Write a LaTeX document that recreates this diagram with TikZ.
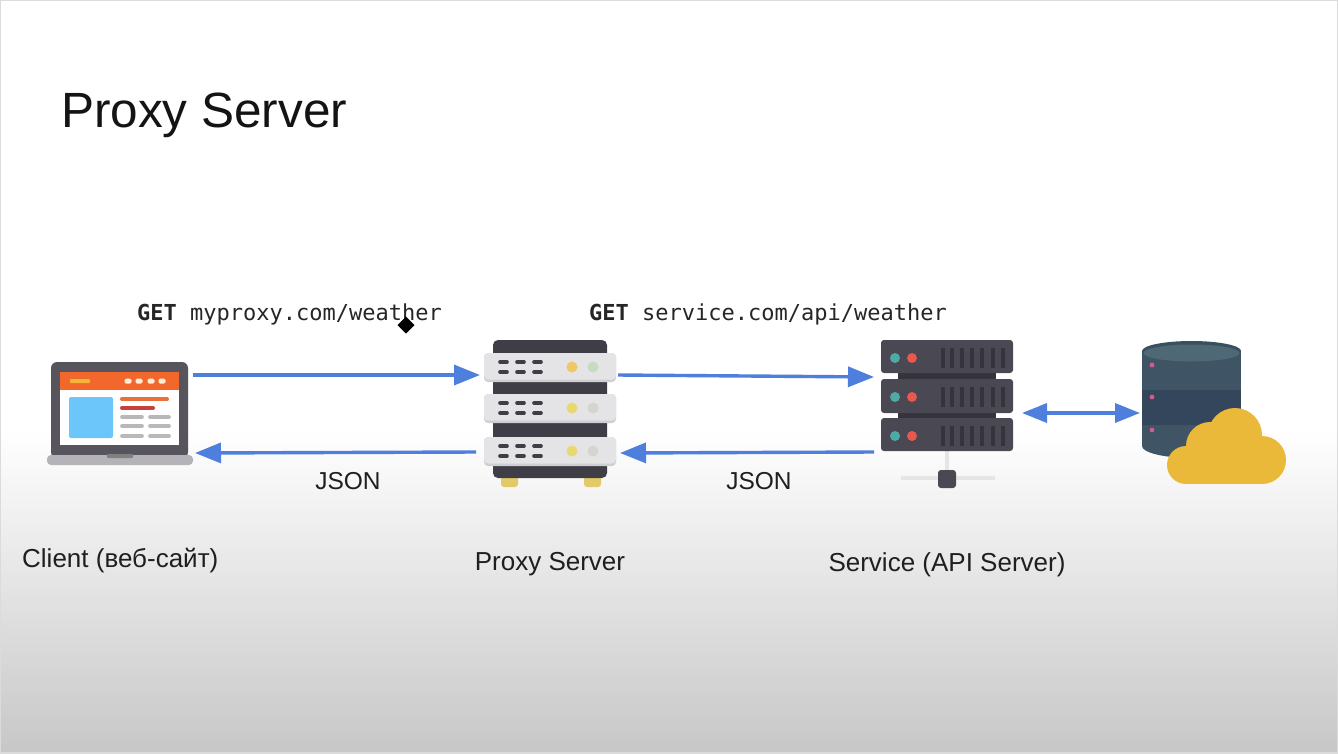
\documentclass[tikz,border=0pt]{standalone}
\usepackage{fontspec}
\setmainfont{Liberation Sans}
\setmonofont{DejaVu Sans Mono}
\usetikzlibrary{arrows.meta}
\definecolor{flowblue}{HTML}{4F7FDC}
\definecolor{lapdark}{HTML}{57545E}
\definecolor{lapbase}{HTML}{B4B4B8}
\definecolor{laporange}{HTML}{F2682C}
\definecolor{lapblue}{HTML}{6CC6FA}
\definecolor{lapline}{HTML}{E8703A}
\definecolor{lapred}{HTML}{C8403A}
\definecolor{lapyellow}{HTML}{F4B73C}
\definecolor{srvdark}{HTML}{3F3E46}
\definecolor{srvlight}{HTML}{E4E4E6}
\definecolor{srvedge}{HTML}{CFCFD3}
\definecolor{svc}{HTML}{4A4953}
\definecolor{svcdeep}{HTML}{35343C}
\definecolor{ledteal}{HTML}{4FAAA5}
\definecolor{ledred}{HTML}{E8584F}
\definecolor{ledyo}{HTML}{EEC766}
\definecolor{ledy}{HTML}{E8D870}
\definecolor{ledg}{HTML}{C5DCC0}
\definecolor{ledn}{HTML}{D4D4D0}
\definecolor{foot}{HTML}{E4C968}
\definecolor{dbtop}{HTML}{4F6875}
\definecolor{dbrim}{HTML}{39505F}
\definecolor{dbmid}{HTML}{3F5566}
\definecolor{dbdark}{HTML}{33465B}
\definecolor{dbpink}{HTML}{D85A8C}
\definecolor{cloudy}{HTML}{EBB93A}
\tikzset{
  x=1pt,y=-1pt,
  flow/.style={draw=flowblue,line width=3.4pt,-{Triangle[length=26pt,width=20pt]}},
  flowboth/.style={draw=flowblue,line width=3.4pt,{Triangle[length=25pt,width=19pt]}-{Triangle[length=25pt,width=19pt]}},
  lab/.style={inner sep=0pt,font=\fontsize{26}{26}\selectfont,text=black!88},
  jsonlab/.style={inner sep=0pt,font=\fontsize{24.5}{25}\selectfont,text=black!88},
  req/.style={inner sep=0pt,anchor=west,font=\fontsize{22}{22}\ttfamily,text=black!85},
  vent/.style={line width=3.6pt,draw=srvdark,line cap=round},
  svcvent/.style={line width=3.6pt,draw=svcdeep},
  grayline/.style={line width=3.6pt,draw=black!28,line cap=round},
}
\begin{document}
\begin{tikzpicture}
\useasboundingbox (0,0) rectangle (1338,753);
% background
\fill[white] (0,0) rectangle (1338,430);
\fill[top color=white,bottom color=black!22,shading angle=0] (0,430) rectangle (1338,753);
\draw[black!14,line width=1.5pt] (0,0) rectangle (1338,753);

\node[inner sep=0pt,anchor=west,font=\fontsize{49.5}{50}\selectfont,text=black!92] (title) at (61,115.5) {Proxy Server};

% laptop
\fill[lapdark,rounded corners=6pt] (51,362) rectangle (188,458);
\fill[lapbase,rounded corners=4pt] (47,455) rectangle (193,465);
\fill[black!50,rounded corners=1pt] (107,454) rectangle (133,458);
\fill[white] (60,372) rectangle (179,445);
\fill[laporange] (60,372) rectangle (179,390);
\fill[lapyellow,rounded corners=1pt] (70,379) rectangle (90,383);
\foreach \px in {128,139,151,162}{\fill[white!85!orange,rounded corners=1.5pt] (\px-3.5,378.5) rectangle (\px+3.5,383.5);}
\fill[lapblue,rounded corners=2pt] (69,397) rectangle (113,438);
\draw[line width=4pt,draw=lapline,line cap=round] (122,399) -- (167,399);
\draw[line width=4pt,draw=lapred,line cap=round] (122,408) -- (153,408);
\foreach \py in {417,426,436}{
  \draw[grayline] (122,\py) -- (142,\py);
  \draw[grayline] (150,\py) -- (169,\py);
}

% proxy server
\fill[foot,rounded corners=3pt] (501,472) rectangle (518,487);
\fill[foot,rounded corners=3pt] (584,472) rectangle (601,487);
\fill[srvdark,rounded corners=5pt] (493,340) rectangle (607,478);
\foreach \uy/\lc/\rc in {353/ledyo/ledg,394/ledy/ledn,437/ledy/ledn}{
  \fill[srvedge,rounded corners=4pt] (484,\uy) rectangle (616,\uy+29);
  \fill[srvlight,rounded corners=4pt] (484,\uy) rectangle (616,\uy+26.5);
  \foreach \vx in {500,517,534}{
    \draw[vent] (\vx,\uy+9) -- (\vx+7,\uy+9);
    \draw[vent] (\vx,\uy+19) -- (\vx+7,\uy+19);
  }
  \fill[\lc] (572,\uy+14) circle (5.5pt);
  \fill[\rc] (593,\uy+14) circle (5.5pt);
}

% service
\fill[black!10] (945,451) rectangle (949,472);
\draw[black!10,line width=4pt] (901,478) -- (995,478);
\fill[svc,rounded corners=3pt] (938,470) rectangle (956,488);
\fill[svcdeep] (898,370) rectangle (996,382);
\fill[svcdeep] (898,410) rectangle (996,421);
\foreach \uy/\uh in {340/33,379/34,418/33}{
  \fill[svc,rounded corners=3pt] (881,\uy) rectangle (1013,\uy+\uh);
  \fill[ledteal] (895,\uy+18) circle (5pt);
  \fill[ledred] (912,\uy+18) circle (5pt);
  \foreach \vx in {943,952,962,972,982,993,1003}{\draw[svcvent] (\vx,\uy+8) -- (\vx,\uy+28);}
}

% database
\fill[dbmid] (1191.5,446) ellipse (49.5pt and 12pt);
\fill[dbmid] (1142,351) rectangle (1241,446);
\fill[dbdark] (1142,390) rectangle (1241,425);
\fill[dbrim] (1191.5,351) ellipse (49.5pt and 10pt);
\fill[dbtop] (1191.5,353) ellipse (48pt and 8.5pt);
\foreach \dy in {365,397,430}{\fill[dbpink] (1152,\dy) circle (2.4pt);}

% cloud
\fill[cloudy] (1186,465) circle (19pt);
\fill[cloudy] (1210,446) circle (24pt);
\fill[cloudy] (1235,435) circle (27pt);
\fill[cloudy] (1262,460) circle (24pt);
\fill[cloudy] (1186,450) rectangle (1262,484);

% anchor points of the connectors
\coordinate (laptopTop) at (193,375);
\coordinate (laptopBot) at (195,453);
\coordinate (proxyInTop) at (480,375);
\coordinate (proxyOutBot) at (476,452);
\coordinate (proxyOutTop) at (618,375);
\coordinate (proxyInBot) at (620,453);
\coordinate (svcInTop) at (874,377);
\coordinate (svcOutBot) at (874,452);
\coordinate (svcDb) at (1022,413);
\coordinate (dbSvc) at (1140,413);

\draw[flow] (laptopTop) -- (proxyInTop);
\draw[flow] (proxyOutBot) -- (laptopBot);
\draw[flow] (proxyOutTop) -- (svcInTop);
\draw[flow] (svcOutBot) -- (proxyInBot);
\draw[flowboth] (svcDb) -- (dbSvc);

% labels
\node[req] (req1) at (137,314) {\textbf{GET} myproxy.com/weather};
\node[req] (req2) at (589,314) {\textbf{GET} service.com/api/weather};
\node[jsonlab] (json1) at (348,481.5) {JSON};
\node[jsonlab] (json2) at (759,481.5) {JSON};
\node[lab,anchor=west] (client) at (22,561) {Client (веб-сайт)};
\node[lab] (proxy) at (550,564.5) {Proxy Server};
\node[lab] (service) at (947,564.5) {Service (API Server)};

% pointer
\fill[black] (406,316.5) -- (414.5,325) -- (406,333.5) -- (397.5,325) -- cycle;
\end{tikzpicture}
\end{document}
